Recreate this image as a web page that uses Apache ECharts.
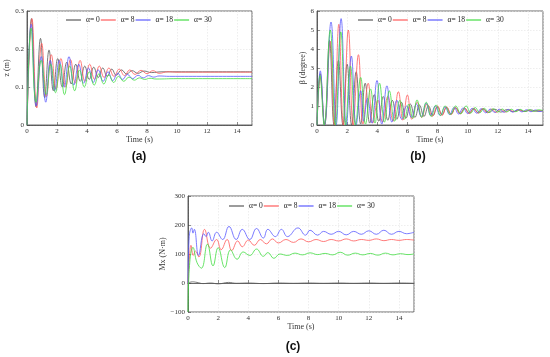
<!DOCTYPE html>
<html><head><meta charset="utf-8">
<script src="https://cdn.jsdelivr.net/npm/echarts@6/dist/echarts.min.js"></script>
<style>html,body{margin:0;padding:0;background:#fff}#c{width:550px;height:357px}</style>
</head><body><div id="c"></div>
<script>
// ---------- data ----------
const seriesNames = ['α= 0', 'α= 8', 'α= 18', 'α= 30'];
const xTicks = [0, 2, 4, 6, 8, 10, 12, 14];
const zTicks = [0, 0.1, 0.2, 0.3];
const bTicks = [0, 1, 2, 3, 4, 5, 6];
const mTicks = [-100, 0, 100, 200, 300];

// (a) z (m)
const zT0 = [0,0.3,0.6,0.9,1.18,1.47,1.76,2.05,2.35,2.65,2.95,3.25,3.55,3.85,4.15,4.45,4.75,5.05,5.35,5.65,5.95,6.3,6.65,7.0,7.4,7.8,8.3,9,10,12,15];
const zV0 = [0,0.28,0.048,0.228,0.072,0.197,0.09,0.175,0.1,0.165,0.108,0.16,0.115,0.155,0.12,0.152,0.125,0.15,0.128,0.147,0.131,0.145,0.134,0.143,0.136,0.142,0.138,0.14,0.14,0.14,0.14];
const zT1 = [0,0.33,0.65,0.98,1.3,1.62,1.94,2.26,2.58,2.9,3.22,3.54,3.86,4.18,4.5,4.82,5.14,5.46,5.8,6.15,6.5,6.85,7.2,7.6,8.0,8.4,8.8,9.4,10,12,15];
const zV1 = [0,0.28,0.045,0.215,0.075,0.185,0.095,0.175,0.1,0.172,0.11,0.17,0.115,0.16,0.12,0.155,0.125,0.15,0.128,0.147,0.13,0.145,0.133,0.144,0.135,0.143,0.136,0.14,0.139,0.139,0.139];
const zT2 = [0,0.28,0.62,0.95,1.25,1.55,1.85,2.15,2.48,2.8,3.12,3.45,3.78,4.1,4.42,4.75,5.08,5.4,5.72,6.05,6.38,6.7,7.05,7.4,7.75,8.1,8.45,8.8,9.5,12,15];
const zV2 = [0,0.265,0.05,0.18,0.06,0.17,0.09,0.17,0.1,0.18,0.105,0.16,0.11,0.15,0.112,0.145,0.115,0.14,0.117,0.136,0.12,0.133,0.122,0.131,0.124,0.13,0.126,0.129,0.128,0.128,0.128];
const zT3 = [0,0.27,0.6,0.95,1.28,1.58,1.9,2.2,2.5,2.85,3.18,3.5,3.82,4.15,4.48,4.8,5.12,5.45,5.78,6.1,6.45,6.8,7.15,7.5,7.85,8.2,8.6,10,12,15];
const zV3 = [0,0.255,0.06,0.17,0.08,0.16,0.085,0.16,0.08,0.155,0.09,0.145,0.1,0.14,0.105,0.135,0.108,0.132,0.112,0.128,0.115,0.126,0.118,0.124,0.12,0.123,0.121,0.122,0.122,0.122];

// (b) beta (degree)
const bT0 = [0,0.22,0.5,0.83,1.13,1.42,1.72,2.0,2.3,2.6,2.9,3.2,3.5,3.8,4.1,4.4,4.7,5.0,5.3,5.6,5.9,6.2,6.5,6.8,7.1,7.4,7.7,8.0,8.3,8.6,8.9,9.2,9.5,9.8,10.1,10.4,10.7,11.0,11.4,11.8,12.2,12.6,13.0,13.4,13.8,14.2,14.6,15];
const bV0 = [0,2.7,0,4.45,0,3.4,0,3.2,0,2.8,0.05,2.2,0.1,1.6,0.2,1.5,0.25,1.3,0.3,1.2,0.35,1.1,0.4,1.05,0.45,1.0,0.5,0.95,0.55,0.92,0.58,0.9,0.6,0.88,0.62,0.86,0.64,0.85,0.66,0.83,0.68,0.81,0.7,0.8,0.71,0.79,0.72,0.76];
const bT1 = [0,0.22,0.5,0.88,1.15,1.45,1.75,2.08,2.4,2.75,3.05,3.4,3.7,4.05,4.35,4.7,5.05,5.4,5.7,6.0,6.3,6.65,6.95,7.3,7.65,8.0,8.3,8.6,8.9,9.2,9.5,9.8,10.1,10.4,10.7,11.0,11.3,11.6,11.9,12.2,12.5,12.8,13.1,13.4,13.7,14.0,14.3,14.6,15];
const bV1 = [0,2.5,0,4.4,0,5.3,0,5.0,0,3.7,0.05,2.2,0.1,1.3,0.15,1.5,0.2,1.75,0.25,1.58,0.3,1.2,0.4,1.1,0.45,1.0,0.5,0.95,0.55,0.92,0.58,0.9,0.6,0.88,0.62,0.86,0.64,0.84,0.66,0.82,0.68,0.8,0.7,0.79,0.71,0.78,0.72,0.77,0.74];
const bT2 = [0,0.22,0.5,0.93,1.27,1.6,1.95,2.28,2.6,2.9,3.1,3.35,3.65,3.98,4.3,4.64,4.97,5.3,5.62,5.95,6.27,6.6,6.92,7.25,7.55,7.85,8.18,8.5,8.8,9.1,9.4,9.7,10.0,10.3,10.6,10.9,11.2,11.5,11.8,12.1,12.4,12.7,13.0,13.3,13.6,13.9,14.2,14.5,14.8,15];
const bV2 = [0,2.85,0,5.42,0,5.6,0,3.63,0,1.8,0.2,1.4,0.1,2.34,0.05,2.06,0.15,1.3,0.3,1.0,0.4,1.1,0.45,1.15,0.5,1.0,0.5,0.95,0.55,0.92,0.58,0.9,0.6,0.88,0.62,0.86,0.64,0.84,0.66,0.83,0.67,0.82,0.68,0.81,0.69,0.8,0.7,0.79,0.71,0.75];
const bT3 = [0,0.2,0.48,0.88,1.22,1.58,1.9,2.22,2.55,2.9,3.22,3.55,3.85,4.15,4.48,4.8,5.15,5.5,5.8,6.1,6.35,6.64,6.95,7.25,7.58,7.9,8.2,8.5,8.85,9.2,9.55,9.9,10.2,10.5,10.8,11.1,11.4,11.7,12.0,12.3,12.6,12.9,13.2,13.5,13.8,14.1,14.4,14.7,15];
const bV3 = [0,2.6,0,5.0,0,4.9,0,3.1,0,2.5,0.05,1.9,0.1,2.2,0.15,1.8,0.2,1.3,0.3,1.1,0.35,1.32,0.4,1.2,0.45,1.05,0.5,1.0,0.55,1.0,0.6,1.0,0.62,0.92,0.64,0.88,0.66,0.86,0.68,0.84,0.69,0.83,0.7,0.82,0.71,0.81,0.72,0.8,0.76];

// (c) Mx (N·m)
const mT0 = [0,0.3,0.6,1.0,1.5,2.0,2.7,3.2,4.0,5.0,6.0,7.0,8.0,9.0,10,11,12,13,14,15];
const mV0 = [0,4,2,-2,0,-3,2,-1,0,-2,0,-1,0,-1,0,-1,0,-1,0,-1];
const mT1 = [0,0.1,0.2,0.35,0.5,0.72,1.1,1.5,1.9,2.2,2.6,2.9,3.3,3.6,4.0,4.4,4.8,5.2,5.6,6.0,6.5,7.0,7.5,8,8.5,9,9.5,10,10.5,11,11.5,12,12.5,13,13.5,14,14.5,15];
const mV1 = [0,90,130,95,110,90,185,120,150,115,150,112,145,125,148,130,150,135,152,138,150,140,152,142,150,143,150,145,152,145,150,147,152,146,150,147,150,148];
const mT2 = [0,0.08,0.25,0.33,0.42,0.7,1.05,1.2,1.35,1.6,1.9,2.3,2.72,3.2,3.6,4.1,4.55,5.0,5.3,5.8,6.2,6.6,7.3,7.8,8.1,8.6,9.0,9.5,10,10.5,11,11.5,12,12.5,13,13.5,14,14.5,15];
const mV2 = [0,160,190,172,185,95,170,160,175,145,175,150,195,150,185,150,188,155,185,160,185,160,190,165,182,165,178,168,178,166,178,168,180,168,182,168,178,170,175];
const mT3 = [0,0.1,0.33,0.6,0.89,1.29,1.66,2.0,2.44,2.82,3.26,3.66,4.1,4.55,5.0,5.3,5.7,6.1,6.6,7.1,7.6,8.1,8.6,9.1,9.6,10.1,10.6,11.1,11.6,12.1,12.6,13.1,13.6,14.1,14.6,15];
const mV3 = [-100,60,123,70,51,134,59,122,53,114,82,107,95,117,92,105,85,100,95,103,97,104,98,102,97,106,96,103,97,102,96,103,97,101,98,100];

// ---------- styling ----------
const colors = ['#5a5a5a', '#ff5b5b', '#5b5bff', '#44dd44'];
const FONT = 'Liberation Serif';
const pair = (T, V) => T.map((t, i) => [t, V[i]]);
const minus = v => String(v).replace('-', '\u2212');

function xAx(gi) {
  return {
    type: 'value', gridIndex: gi, min: 0, max: 15, interval: 2,
    name: 'Time (s)', nameLocation: 'middle', nameGap: 10,
    nameTextStyle: { fontFamily: FONT, fontSize: 8, color: '#333' },
    axisLine: { show: true, lineStyle: { color: '#444', width: 0.8 } },
    axisTick: { show: true, inside: true, length: 3, lineStyle: { color: '#444', width: 0.6 } },
    axisLabel: { fontFamily: FONT, fontSize: 7, color: '#333', margin: 3, showMaxLabel: false,
      formatter: v => xTicks.includes(v) ? String(v) : '' },
    splitLine: { show: true, lineStyle: { color: '#e2e2e2', width: 0.6, type: [1.5, 1.5] } }
  };
}
function yAx(gi, min, max, interval, name, gap, ticks) {
  return {
    type: 'value', gridIndex: gi, min, max, interval,
    name, nameLocation: 'middle', nameGap: gap, nameRotate: 90,
    nameTextStyle: { fontFamily: FONT, fontSize: 8, color: '#333' },
    axisLine: { show: true, lineStyle: { color: '#444', width: 0.8 } },
    axisTick: { show: true, inside: true, length: 3, lineStyle: { color: '#444', width: 0.6 } },
    axisLabel: { fontFamily: FONT, fontSize: 7, color: '#333', margin: 3,
      formatter: v => ticks.some(t => Math.abs(t - v) < 1e-9) ? minus(+v.toFixed(2)) : '' },
    splitLine: { show: true, lineStyle: { color: '#e2e2e2', width: 0.6, type: [1.5, 1.5] } }
  };
}
function ser(i, gi, T, V) {
  return {
    name: seriesNames[i], type: 'line', xAxisIndex: gi, yAxisIndex: gi,
    data: pair(T, V), showSymbol: false, symbol: 'none', smooth: 0.45, clip: true,
    lineStyle: { color: colors[i], width: 0.9, opacity: 0.9 }, itemStyle: { color: colors[i] }
  };
}
function leg(left, top) {
  return {
    left: left, top: top, orient: 'horizontal', itemWidth: 15, itemHeight: 1.2, itemGap: 1,
    icon: 'rect', data: seriesNames,
    textStyle: { fontFamily: FONT, fontSize: 7.5, color: '#222' },
    selectedMode: false, padding: 0
  };
}

const option = {
  animation: false,
  backgroundColor: '#fff',
  color: colors,
  grid: [
    { left: 27, top: 11, width: 225, height: 114, show: true, borderColor: '#444', borderWidth: 0.8 },
    { left: 317, top: 11, width: 226, height: 114, show: true, borderColor: '#444', borderWidth: 0.8 },
    { left: 188, top: 196, width: 226, height: 116, show: true, borderColor: '#444', borderWidth: 0.8 }
  ],
  xAxis: [xAx(0), xAx(1), xAx(2)],
  yAxis: [
    yAx(0, 0, 0.3, 0.1, 'z (m)', 11, zTicks),
    yAx(1, 0, 6, 1, 'β (degree)', 8, bTicks),
    yAx(2, -100, 300, 100, 'Mx (N·m)', 15, mTicks)
  ],
  legend: [leg(66, 16), leg(358, 16), leg(229, 202)],
  series: [
    ser(0, 0, zT0, zV0), ser(1, 0, zT1, zV1), ser(2, 0, zT2, zV2), ser(3, 0, zT3, zV3),
    ser(0, 1, bT0, bV0), ser(1, 1, bT1, bV1), ser(2, 1, bT2, bV2), ser(3, 1, bT3, bV3),
    ser(0, 2, mT0, mV0), ser(1, 2, mT1, mV1), ser(2, 2, mT2, mV2), ser(3, 2, mT3, mV3)
  ],
  graphic: [
    { type: 'text', x: 139, y: 157, style: { text: '(a)', font: 'bold 12px "Liberation Sans"', fill: '#111', textAlign: 'center', textVerticalAlign: 'middle' } },
    { type: 'text', x: 418, y: 157, style: { text: '(b)', font: 'bold 12px "Liberation Sans"', fill: '#111', textAlign: 'center', textVerticalAlign: 'middle' } },
    { type: 'text', x: 293, y: 347, style: { text: '(c)', font: 'bold 12px "Liberation Sans"', fill: '#111', textAlign: 'center', textVerticalAlign: 'middle' } }
  ]
};
const chart = echarts.init(document.getElementById('c'), null, { renderer: 'canvas' });
chart.setOption(option);
</script></body></html>
